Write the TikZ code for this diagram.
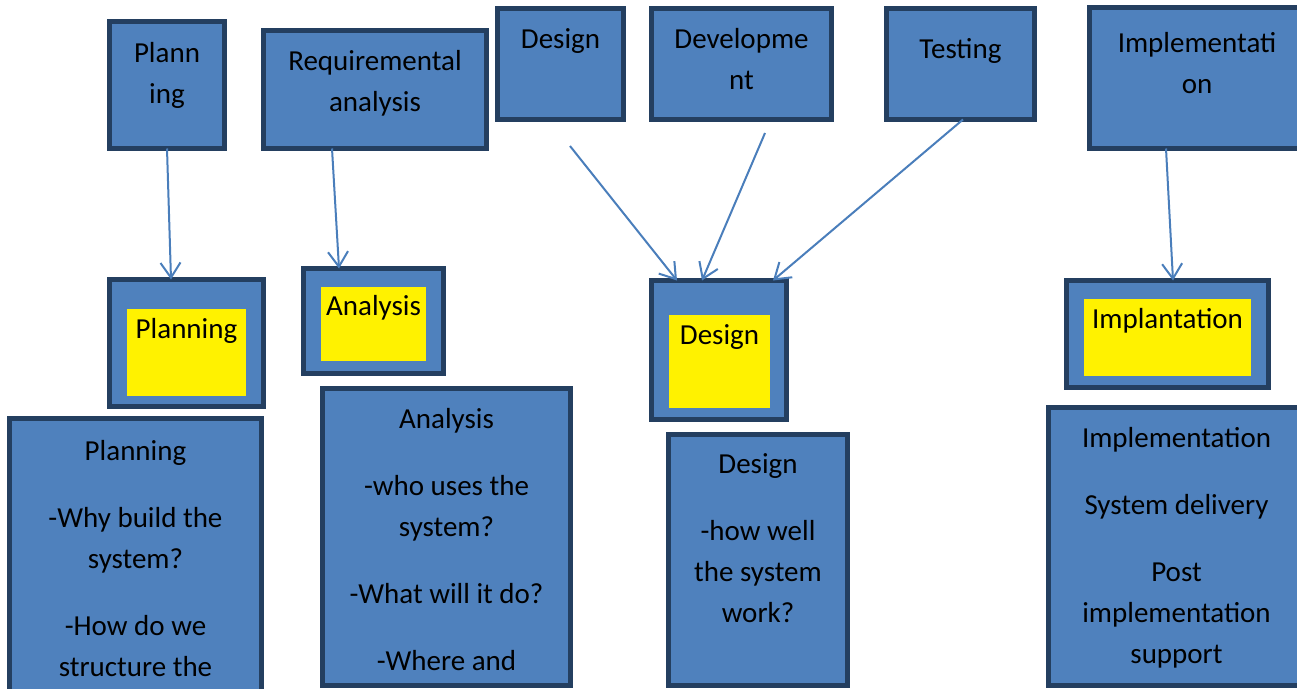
\documentclass[tikz,border=0pt]{standalone}
\usepackage{fontspec}
\setmainfont{Carlito}
\usetikzlibrary{arrows.meta, positioning}
\definecolor{boxblue}{HTML}{4F81BD}
\definecolor{boxline}{HTML}{243F60}
\definecolor{arrowblue}{HTML}{4A7EBB}

\begin{document}
\begin{tikzpicture}[
	x=1pt, y=-1pt,
	every node/.style={font=\fontsize{29}{41}\selectfont},
	block/.style={
		rectangle, draw=boxline, fill=boxblue, line width=5pt,
		inner sep=0pt, outer sep=0pt
	},
	stagefill/.style={rectangle, fill=yellow, inner sep=0pt, outer sep=0pt},
	boxtext/.style={anchor=north, align=center, inner sep=0pt, execute at begin node=\strut},
	arrow/.style={-{Straight Barb[length=15pt, width=20pt]}, draw=arrowblue, line width=2pt}
	]
	\useasboundingbox (0,0) rectangle (1297,688);
	\clip (0,0) rectangle (1297,688);
	
	% Top row
	\node[block, minimum width=115, minimum height=127] (plan-top) at (167,85) {};
	\node[block, minimum width=223, minimum height=118] (req-top) at (375,89.5) {};
	\node[block, minimum width=126, minimum height=111] (design-top) at (560.5,64) {};
	\node[block, minimum width=180, minimum height=111] (dev-top) at (741.5,64) {};
	\node[block, minimum width=148, minimum height=111] (test-top) at (960.5,64) {};
	\node[block, minimum width=215, minimum height=141] (impl-top) at (1197,78) {};
	\node[boxtext] (plan-top-text) at (167,42.3) {Plann\\ing};
	\node[boxtext] (req-top-text) at (375,50.3) {Requiremental\\analysis};
	\node[boxtext] (design-top-text) at (560.5,19.8) {Design};
	\node[boxtext] (dev-top-text) at (741.5,28.3) {Developme\\nt};
	\node[boxtext] (test-top-text) at (960.5,29.3) {Testing};
	\node[boxtext] (impl-top-text) at (1197,32.3) {Implementati\\on};
	
	% Stages
	\node[block, minimum width=154, minimum height=127] (plan-stage) at (186.5,343) {};
	\node[stagefill, minimum width=119, minimum height=87] (plan-fill) at (186.5,352.5) {};
	\node[boxtext] (plan-stage-text) at (186.5,309.3) {Planning};
	\node[block, minimum width=140, minimum height=105] (ana-stage) at (373.5,321) {};
	\node[stagefill, minimum width=105, minimum height=74] (ana-fill) at (373.5,324) {};
	\node[boxtext] (ana-stage-text) at (373.5,286.3) {Analysis};
	\node[block, minimum width=135, minimum height=139] (design-stage) at (719,350) {};
	\node[stagefill, minimum width=101, minimum height=93] (design-fill) at (719.5,361.5) {};
	\node[boxtext] (design-stage-text) at (719.5,315.3) {Design};
	\node[block, minimum width=202, minimum height=107] (impl-stage) at (1167.5,334) {};
	\node[stagefill, minimum width=167, minimum height=77] (impl-fill) at (1167.5,337.5) {};
	\node[boxtext] (impl-stage-text) at (1167.5,299.3) {Implantation};
	
	% Notes
	\node[block, minimum width=252, minimum height=279] (plan-note) at (135.5,558) {};
	\begin{scope}
		\clip (7,416) rectangle (264,677);
		\node[boxtext] (plan-note-text) at (135.5,440.3) {Planning\\[26pt]-Why build the\\system?\\[26pt]-How do we\\structure the};
	\end{scope}
	\node[block, minimum width=248, minimum height=297] (ana-note) at (446.5,537) {};
	\node[boxtext] (ana-note-text) at (446.5,408.3) {Analysis\\[26pt]-who uses the\\system?\\[26pt]-What will it do?\\[26pt]-Where and};
	\node[block, minimum width=179, minimum height=251] (design-note) at (758,560) {};
	\node[boxtext] (design-note-text) at (758,453.3) {Design\\[26pt]-how well\\the system\\work?};
	\node[block, minimum width=256, minimum height=278] (impl-note) at (1176.5,546.5) {};
	\node[boxtext] (impl-note-text) at (1176.5,427.3) {Implementation\\[26pt]System delivery\\[26pt]Post\\implementation\\support};
	
	% Arrows
	\coordinate (design-from) at (570,146);
	\coordinate (dev-from) at (765,133);
	\draw[arrow] (plan-top.south) -- ([xshift=-15.5pt]plan-stage.north);
	\draw[arrow] ([xshift=-43pt]req-top.south) -- ([xshift=-34.5pt]ana-stage.north);
	\draw[arrow] (design-from) -- ([xshift=-42pt]design-stage.north);
	\draw[arrow] (dev-from) -- ([xshift=-17pt]design-stage.north);
	\draw[arrow] ([xshift=2.5pt]test-top.south) -- ([xshift=54pt]design-stage.north);
	\draw[arrow] ([xshift=-31pt]impl-top.south) -- ([xshift=5.5pt]impl-stage.north);
\end{tikzpicture}
\end{document}
